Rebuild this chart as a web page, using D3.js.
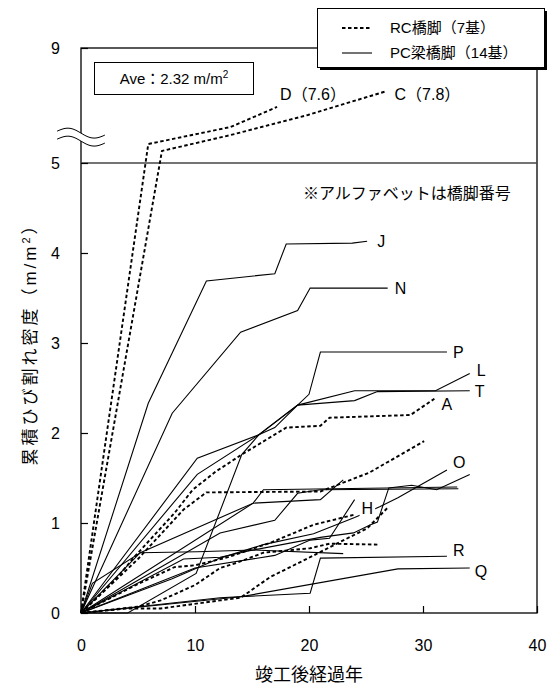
<!DOCTYPE html>
<html>
<head>
<meta charset="utf-8">
<script src="https://cdn.jsdelivr.net/npm/d3@7"></script>
<style>
  body { margin: 0; background: #fff; }
  svg { font-family: "Liberation Sans", "Noto Sans CJK JP", sans-serif; }
  svg text { fill: #000; }
</style>
</head>
<body>
<div id="chart"></div>
<script>
// ---- data (years after completion, cumulative crack density m/m2) ----
var xTicks = [0, 10, 20, 30, 40];
var yTicks = [0, 1, 2, 3, 4, 5, 9];

// RC piers (dashed)
var rcC = [[0,0],[7.1,5.42],[13.1,5.97],[19.9,6.67],[26.8,7.5]];
var rcD = [[0,0],[5.9,5.66],[13.1,6.25],[17.2,6.95]];
var rcA = [[0,0],[3,0.37],[4.8,0.64],[8.2,1.11],[9.8,1.37],[11.8,1.57],[14.1,1.76],[18,2.06],[21,2.08],[21.8,2.17],[28.9,2.2],[31,2.38]];
var rcE = [[0,0],[5,0.6],[9,1.15],[11,1.34],[21,1.35],[25.3,1.56],[30.1,1.91]];
var rcG = [[0,0],[4.8,0.31],[8.2,0.51],[10,0.53],[12.9,0.62],[16.6,0.78],[20.4,0.98],[23.9,1.09]];
var rcF = [[0,0],[5,0.07],[7,0.14],[10,0.31],[12.2,0.5],[13.7,0.56],[16,0.67],[20.1,0.72],[21.8,0.77],[26.1,0.76]];
var rcK = [[0,0],[4,0.05],[7,0.05],[12.2,0.14],[14,0.17],[16.6,0.4],[20.1,0.62],[21.8,0.73],[25.1,0.94],[26.9,1.17]];

// PC girder piers (solid)
var pcJ = [[0,0],[5.9,2.33],[11,3.69],[17,3.77],[18,4.1],[23.8,4.11],[25.1,4.13]];
var pcN = [[0,0],[8,2.22],[14,3.12],[19,3.36],[20.1,3.61],[26.9,3.61]];
var pcP = [[0,0],[4.1,0],[10.1,0.44],[14.1,1.76],[15.6,1.98],[19,2.31],[20,2.43],[21,2.9],[32.1,2.9]];
var pcL = [[0,0],[10.2,1.72],[15.6,1.98],[19,2.31],[24,2.47],[31.1,2.47],[34.1,2.66]];
var pcT = [[0,0],[10.2,1.54],[15.6,1.98],[17,2.06],[19,2.31],[24,2.36],[26,2.46],[34.1,2.47]];
var pcO = [[0,0],[8,0.38],[12.2,0.61],[16,0.76],[20.4,0.88],[24,1.06],[26.2,1.18],[27.8,1.28],[32.1,1.59]];
var pcH = [[0,0],[10,0.5],[17,0.64],[20.1,0.81],[21.8,0.83],[24,1.26]];
var pcR = [[0,0],[12.2,0.17],[20.1,0.22],[21,0.61],[32.1,0.63]];
var pcQ = [[0,0],[14,0.18],[27.8,0.49],[34.1,0.5]];
var pcU = [[0,0],[9,0.6],[12.2,0.62],[15.1,0.7],[21,0.84],[23.9,0.89],[25.4,0.98],[26,1.01],[27,1.39],[29,1.42],[31.2,1.37],[34.1,1.54]];
var pcV = [[0,0],[5.2,0.67],[15.1,1.22],[21,1.26],[23,1.48]];
var pcW = [[0,0],[12.2,0.89],[17,1.03],[19,1.33],[21,1.37],[33.1,1.38]];
var pcX = [[0,0],[15.1,1.22],[16,1.37],[33,1.4]];
var pcY = [[0,0],[1,0.33],[5.2,0.67],[10.2,0.68],[15.1,0.7],[23,0.66]];

var rcSeries = [rcC, rcD, rcA, rcE, rcG, rcF, rcK];
var pcSeries = [pcJ, pcN, pcP, pcL, pcT, pcO, pcH, pcR, pcQ, pcU, pcV, pcW, pcX, pcY];

// labels at the end of series
var endLabels = [
  {series: pcJ, text: "J"}, {series: pcN, text: "N"}, {series: pcP, text: "P"},
  {series: pcL, text: "L"}, {series: pcT, text: "T"}, {series: rcA, text: "A"},
  {series: pcO, text: "O"}, {series: pcH, text: "H"}, {series: pcR, text: "R"},
  {series: pcQ, text: "Q"}, {series: rcC, text: "C（7.8）"}, {series: rcD, text: "D（7.6）"}
];
var legendLabels = ["RC橋脚（7基）", "PC梁橋脚（14基）"];
var aveText = "Ave：2.32 m/m";
var noteText = "※アルファベットは橋脚番号";
var xTitle = "竣工後経過年";
var yTitle = "累積ひび割れ密度（m/m";

// ---- layout ----
var W = 557, H = 691;
var plot = {left: 81, right: 537, top: 48, bottom: 613};
// label offsets in px, relative to the last point of each series
var labelOffset = {J:[10,0], N:[7,0], P:[6,0], L:[7,-3], T:[5,1], A:[7,5], O:[6,-8],
                   H:[7,9], R:[6,-6], Q:[5,3], "C（7.8）":[8,3], "D（7.6）":[3,-13]};

var svg = d3.select("#chart").append("svg").attr("width", W).attr("height", H);

var x = d3.scaleLinear().domain([0, 40]).range([plot.left, plot.right]);
// broken axis: 0-5 linear, 5-9 compressed
var y = d3.scaleLinear().domain([0, 5, 9]).range([plot.bottom, 163, plot.top]);

// frame
svg.append("rect")
  .attr("x", plot.left).attr("y", plot.top)
  .attr("width", plot.right - plot.left).attr("height", plot.bottom - plot.top)
  .attr("fill", "none").attr("stroke", "#000").attr("stroke-width", 1.3);

// line at 5 (axis break)
svg.append("line")
  .attr("x1", plot.left).attr("x2", plot.right)
  .attr("y1", y(5)).attr("y2", y(5))
  .attr("stroke", "#444").attr("stroke-width", 1.5);

// axes
var yAxis = svg.append("g")
  .attr("transform", "translate(" + plot.left + ",0)")
  .call(d3.axisLeft(y).tickValues(yTicks).tickSizeInner(-7).tickSizeOuter(0).tickPadding(21));
var xAxis = svg.append("g")
  .attr("transform", "translate(0," + plot.bottom + ")")
  .call(d3.axisBottom(x).tickValues(xTicks).tickSizeInner(-7).tickSizeOuter(0).tickPadding(27));
[yAxis, xAxis].forEach(function(a){
  a.attr("font-size", null).attr("font-family", null);
  a.select(".domain").remove();
  a.selectAll("line").attr("stroke", "#000").attr("stroke-width", 1.2);
  a.selectAll("text").attr("fill", "#000")
    .style("font-size", "16px")
    .style("font-family", '"Liberation Sans", sans-serif');
});

// series
var line = d3.line()
  .x(function(d){ return x(d[0]); })
  .y(function(d){ return y(d[1]); });

svg.append("g").selectAll("path").data(pcSeries).enter().append("path")
  .attr("d", line).attr("fill", "none")
  .attr("stroke", "#000").attr("stroke-width", 1.1);

svg.append("g").selectAll("path").data(rcSeries).enter().append("path")
  .attr("d", line).attr("fill", "none")
  .attr("stroke", "#000").attr("stroke-width", 1.9)
  .attr("stroke-dasharray", "3.5,2.5");

// break mark on the left axis
var by = y(5.9);
function wave(off){
  return d3.range(0, 49, 2).map(function(t){
    return [57 + t, by + off + (t - 24) * 0.08 - 4 * Math.sin(t / 48 * 2 * Math.PI)];
  });
}
var waveTop = wave(-4), waveBot = wave(4);
svg.append("path")
  .attr("d", d3.line()(waveTop.concat(waveBot.slice().reverse())) + "Z")
  .attr("fill", "#fff").attr("stroke", "none");
svg.append("path").attr("d", d3.line().curve(d3.curveBasis)(waveTop))
  .attr("fill", "none").attr("stroke", "#000").attr("stroke-width", 1);
svg.append("path").attr("d", d3.line().curve(d3.curveBasis)(waveBot))
  .attr("fill", "none").attr("stroke", "#000").attr("stroke-width", 1);

// end labels
endLabels.forEach(function(l){
  var last = l.series[l.series.length - 1];
  var off = labelOffset[l.text];
  var t = svg.append("text")
    .attr("x", x(last[0]) + off[0]).attr("y", y(last[1]) + off[1])
    .attr("dy", "0.36em").attr("font-size", "16px")
    .text(l.text);
  if (l.text === "H") {
    var bb = t.node().getBBox();
    svg.insert("rect", function(){ return t.node(); })
      .attr("x", bb.x - 2).attr("y", bb.y).attr("width", bb.width + 4).attr("height", bb.height)
      .attr("fill", "#fff");
  }
});

// note
svg.append("text").attr("x", 303).attr("y", 199)
  .attr("font-size", "16px").text(noteText);

// Ave box
svg.append("rect").attr("x", 94.5).attr("y", 62.5).attr("width", 159).attr("height", 32)
  .attr("fill", "#fff").attr("stroke", "#000").attr("stroke-width", 1);
var ave = svg.append("text").attr("x", 174).attr("y", 84)
  .attr("text-anchor", "middle").attr("font-size", "15px");
ave.append("tspan").text(aveText);
ave.append("tspan").attr("dy", "-6").attr("font-size", "10px").text("2");

// legend with shadow
svg.append("rect").attr("x", 320).attr("y", 11).attr("width", 227).attr("height", 59).attr("fill", "#000");
svg.append("rect").attr("x", 317.5).attr("y", 8.5).attr("width", 227).attr("height", 59)
  .attr("fill", "#fff").attr("stroke", "#000").attr("stroke-width", 1);
legendLabels.forEach(function(s, i){
  var ly = 28 + i * 25;
  svg.append("line").attr("x1", 342).attr("x2", 372).attr("y1", ly).attr("y2", ly)
    .attr("stroke", "#000")
    .attr("stroke-width", i === 0 ? 1.9 : 1.1)
    .attr("stroke-dasharray", i === 0 ? "3.5,2.5" : null);
  svg.append("text").attr("x", 390).attr("y", ly).attr("dy", "0.36em")
    .attr("font-size", "15px").text(s);
});

// axis titles
svg.append("text").attr("x", 309).attr("y", 681)
  .attr("text-anchor", "middle").attr("font-size", "18px").text(xTitle);
var yt = svg.append("text")
  .attr("transform", "translate(36,340) rotate(-90)")
  .attr("text-anchor", "middle").attr("font-size", "17px")
  .attr("letter-spacing", "3px");
yt.append("tspan").text(yTitle);
yt.append("tspan").attr("dy", "-6").attr("font-size", "11px").text("2");
yt.append("tspan").attr("dy", "6").text("）");
</script>
</body>
</html>
